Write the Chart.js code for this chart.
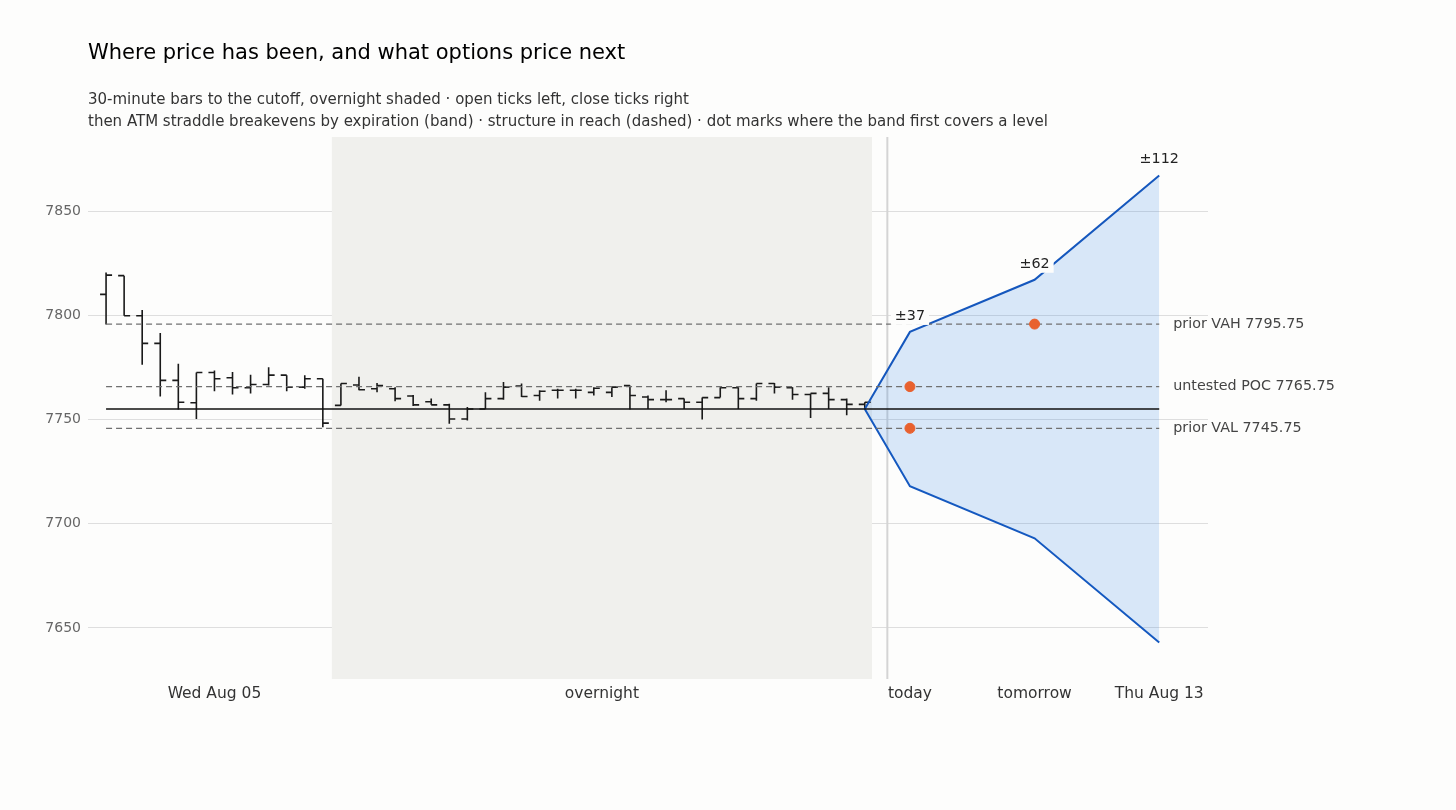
<!DOCTYPE html>
<html>
<head>
<meta charset="utf-8">
<script src="https://cdn.jsdelivr.net/npm/chart.js@4.4.1/dist/chart.umd.min.js"></script>
<style>
  html, body { margin: 0; padding: 0; background: #fdfdfc; }
  #wrap { position: relative; width: 1456px; height: 810px; font-family: "DejaVu Sans", sans-serif; }
  #title { position: absolute; left: 88px; top: 38px; font-size: 21px; line-height: 28px; color: #000; white-space: nowrap; }
  #sub { position: absolute; left: 88px; top: 88px; font-size: 15px; line-height: 22px; color: #333; white-space: nowrap; }
  canvas { position: absolute; left: 0; top: 0; }
</style>
</head>
<body>
<div id="wrap">
  <canvas id="chart" width="1456" height="810"></canvas>
  <div id="title">Where price has been, and what options price next</div>
  <div id="sub">30-minute bars to the cutoff, overnight shaded · open ticks left, close ticks right<br>then ATM straddle breakevens by expiration (band) · structure in reach (dashed) · dot marks where the band first covers a level</div>
</div>
<script>
// 30-minute OHLC bars, index 0 = first bar of Wed Aug 05 session
const barOpen  = [7810, 7819, 7799.75, 7786.5, 7768.75, 7758, 7772.5, 7770, 7765.25, 7766.75, 7771.25, 7765.5, 7769.5,
                  7756.75, 7766.5, 7764.75, 7764.75, 7761.25, 7758.5, 7757, 7750.25, 7755, 7760, 7766, 7761.5, 7764, 7764, 7763, 7763,
                  7766.25, 7760.75, 7759.5, 7760, 7758.25, 7760.5, 7765.25, 7760, 7767.25, 7765.25, 7762, 7762.5, 7759.5, 7757.25];
const barHigh  = [7820.5, 7819, 7802.5, 7791.5, 7776.75, 7772.5, 7773.5, 7772.75, 7771.5, 7775, 7771.25, 7771.25, 7769.5,
                  7767.25, 7770.5, 7767.5, 7765.5, 7761.75, 7760, 7757.5, 7756, 7763, 7768, 7767.25, 7764, 7764.75, 7764.75, 7765.5, 7765.5,
                  7766.25, 7761.5, 7764, 7760, 7760.5, 7765.5, 7765.5, 7767.25, 7767.5, 7765.5, 7762.5, 7765.5, 7760, 7758.25];
const barLow   = [7795.5, 7799.75, 7776.25, 7761, 7754.75, 7750.25, 7763.5, 7762, 7762.5, 7766.25, 7763.5, 7764.75, 7746.25,
                  7756.75, 7764, 7763, 7758.75, 7756.5, 7757, 7748, 7749.5, 7755, 7759.5, 7760.75, 7759, 7760, 7760, 7761.5, 7760.75,
                  7754.75, 7755, 7758.25, 7755, 7750, 7760.5, 7755, 7759, 7762.5, 7759.5, 7750.75, 7755, 7752, 7754.75];
const barClose = [7819.25, 7799.75, 7786.5, 7768.75, 7758.25, 7772.5, 7769.5, 7765.25, 7766.75, 7771.25, 7765.5, 7769.5, 7748.25,
                  7767.25, 7764.25, 7766.25, 7760, 7757, 7757, 7750.25, 7755, 7760, 7765.5, 7761, 7763.5, 7764, 7764, 7765, 7765.5,
                  7761.5, 7759.5, 7759.5, 7758.25, 7760.5, 7765.25, 7760, 7767.25, 7765.5, 7762, 7762.5, 7759.5, 7757.25, 7758.25];

// overnight session span and cutoff (in bar-index units)
const overnightSpan = [12.5, 42.4];
const cutoffX = 43.25;

// straddle band by expiration
const cutoffPrice = 7755;
const bandStartX = 42;
const expiryLabels = ['today', 'tomorrow', 'Thu Aug 13'];
const expiryX = [44.5, 51.4, 58.3];
const straddle = [37, 62, 112];

// structure levels
const levelNames = ['prior VAH', 'untested POC', 'prior VAL'];
const levelValues = [7795.75, 7765.75, 7745.75];
// first expiry index at which the band covers each level
const levelHitExpiry = [1, 0, 0];

// axis ticks
const xTickValues = [6, 27.45, 44.5, 51.4, 58.3];
const xTickLabels = ['Wed Aug 05', 'overnight', 'today', 'tomorrow', 'Thu Aug 13'];
const yTicks = [7650, 7700, 7750, 7800, 7850];

const levelEndX = expiryX[expiryX.length - 1];

const upperBand = [{x: bandStartX, y: cutoffPrice}].concat(expiryX.map((x, i) => ({x, y: cutoffPrice + straddle[i]})));
const lowerBand = [{x: bandStartX, y: cutoffPrice}].concat(expiryX.map((x, i) => ({x, y: cutoffPrice - straddle[i]})));

const datasets = [
  {label: 'upper', data: upperBand, borderColor: '#1557bd', borderWidth: 2, pointRadius: 0,
   fill: '+1', backgroundColor: 'rgba(25,118,230,0.16)', order: 5},
  {label: 'lower', data: lowerBand, borderColor: '#1557bd', borderWidth: 2, pointRadius: 0, fill: false, order: 5}
];
levelValues.forEach((v, i) => {
  datasets.push({label: levelNames[i], data: [{x: 0, y: v}, {x: levelEndX, y: v}], borderColor: '#707070',
    borderWidth: 1.3, borderDash: [6, 4], pointRadius: 0, fill: false, order: 3});
});
datasets.push({label: 'cutoff', data: [{x: 0, y: cutoffPrice}, {x: levelEndX, y: cutoffPrice}], borderColor: '#111',
  borderWidth: 1.5, pointRadius: 0, fill: false, order: 2});
datasets.push({label: 'hits', type: 'scatter', data: levelValues.map((v, i) => ({x: expiryX[levelHitExpiry[i]], y: v})),
  backgroundColor: '#e8612f', borderColor: '#e8612f', pointRadius: 5, order: 1});

const backdrop = {
  id: 'backdrop',
  beforeDatasetsDraw(chart) {
    const {ctx, chartArea: a, scales: {x, y}} = chart;
    ctx.save();
    ctx.fillStyle = '#f0f0ed';
    const x0 = x.getPixelForValue(overnightSpan[0]), x1 = x.getPixelForValue(overnightSpan[1]);
    ctx.fillRect(x0, a.top, x1 - x0, a.bottom - a.top);
    ctx.strokeStyle = '#d4d4d4';
    ctx.lineWidth = 2;
    const cx = x.getPixelForValue(cutoffX);
    ctx.beginPath(); ctx.moveTo(cx, a.top); ctx.lineTo(cx, a.bottom); ctx.stroke();
    // OHLC bars
    ctx.strokeStyle = '#1a1a1a';
    ctx.lineWidth = 1.6;
    const tick = 6;
    for (let i = 0; i < barOpen.length; i++) {
      const px = x.getPixelForValue(i);
      ctx.beginPath();
      ctx.moveTo(px, y.getPixelForValue(barHigh[i]));
      ctx.lineTo(px, y.getPixelForValue(barLow[i]));
      const yo = y.getPixelForValue(barOpen[i]), yc = y.getPixelForValue(barClose[i]);
      ctx.moveTo(px - tick, yo); ctx.lineTo(px, yo);
      ctx.moveTo(px, yc); ctx.lineTo(px + tick, yc);
      ctx.stroke();
    }
    ctx.restore();
  },
  afterDatasetsDraw(chart) {
    const {ctx, scales: {x, y}} = chart;
    ctx.save();
    ctx.font = '14.3px "DejaVu Sans"';
    ctx.textBaseline = 'middle';
    // level labels
    ctx.fillStyle = '#444';
    ctx.textAlign = 'left';
    const lx = x.getPixelForValue(levelEndX) + 14;
    levelValues.forEach((v, i) => {
      ctx.fillText(levelNames[i] + ' ' + v.toFixed(2), lx, y.getPixelForValue(v));
    });
    // straddle labels
    ctx.textAlign = 'center';
    expiryX.forEach((ex, i) => {
      const text = '±' + straddle[i];
      const px = x.getPixelForValue(ex);
      const py = y.getPixelForValue(cutoffPrice + straddle[i]) - 16;
      const w = ctx.measureText(text).width + 8;
      ctx.fillStyle = '#fdfdfc';
      ctx.fillRect(px - w / 2, py - 9, w, 18);
      ctx.fillStyle = '#222';
      ctx.fillText(text, px, py);
    });
    ctx.restore();
  }
};

new Chart(document.getElementById('chart').getContext('2d'), {
  type: 'line',
  data: {datasets},
  options: {
    responsive: false,
    animation: false,
    layout: {padding: {top: 137, right: 248, left: 0, bottom: 0}},
    plugins: {legend: {display: false}, tooltip: {enabled: false}},
    scales: {
      x: {
        type: 'linear', min: -1, max: 61,
        grid: {display: false, drawTicks: false},
        border: {display: false},
        afterFit: s => { s.height = 131; },
        afterBuildTicks: s => { s.ticks = xTickValues.map(v => ({value: v})); },
        ticks: {
          autoSkip: false, maxRotation: 0, padding: 6, color: '#333',
          font: {family: 'DejaVu Sans', size: 15.5},
          callback: (v, i) => xTickLabels[i]
        }
      },
      y: {
        type: 'linear', min: 7625.5, max: 7885.5,
        grid: {color: '#dedede', lineWidth: 1, drawTicks: false},
        border: {display: false},
        afterFit: s => { s.width = 88; },
        afterBuildTicks: s => { s.ticks = yTicks.map(v => ({value: v})); },
        ticks: {padding: 7, color: '#666', font: {family: 'DejaVu Sans', size: 14},
                callback: v => String(v)}
      }
    }
  },
  plugins: [backdrop]
});
</script>
</body>
</html>
